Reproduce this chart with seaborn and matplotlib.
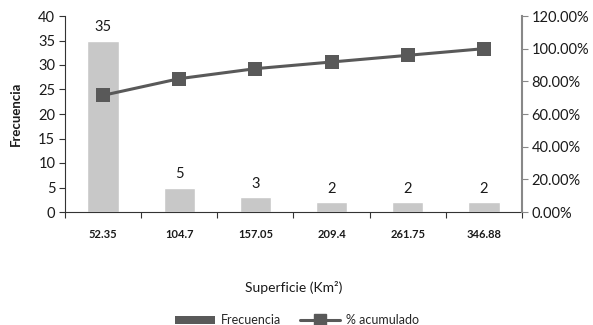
import matplotlib
matplotlib.use("Agg")
import matplotlib.pyplot as plt
import matplotlib.ticker as mticker
from matplotlib.patches import Patch
from matplotlib.lines import Line2D
import numpy as np
import pandas as pd
import seaborn as sns

# Frequency table of surface areas
categorias = ["52.35", "104.7", "157.05", "209.4", "261.75", "346.88"]
frecuencia = [35, 5, 3, 2, 2, 2]
acumulado = [0.7143, 0.8163, 0.8776, 0.9184, 0.9592, 1.0]

sns.set_theme(style="white")
plt.rcParams["font.family"] = ["Lato", "DejaVu Sans"]

BAR = "#c8c8c8"
LINE = "#595959"
TXT = "#1a1a1a"

df = pd.DataFrame({"cat": categorias, "freq": frecuencia, "acum": acumulado})

fig = plt.figure(figsize=(5.93, 3.25), dpi=100)
ax = fig.add_axes([65 / 593, 113 / 325, (522 - 65) / 593, (212 - 16) / 325])

sns.barplot(data=df, x="cat", y="freq", color=BAR, width=0.41,
            saturation=1, ax=ax)
for i, v in enumerate(frecuencia):
    ax.text(i, v + 1.3, str(v), ha="center", va="bottom", fontsize=10.5, color=TXT)

ax.set_ylim(0, 40)
ax.set_xlim(-0.5, 5.5)
ax.set_yticks(range(0, 41, 5))
ax.tick_params(axis="y", left=True, length=4, width=0.8, color="#333333",
               labelsize=10.5, labelcolor=TXT, pad=3)
ax.set_xticks(np.arange(-0.5, 6.0, 1.0), minor=False)
ax.set_xticklabels([])
ax.set_xticks(np.arange(6), minor=True)
ax.set_xticklabels(categorias, minor=True, fontsize=8, fontweight="bold",
                   color=TXT)
ax.tick_params(axis="x", which="major", bottom=True, length=4, width=0.8,
               color="#333333", direction="out")
ax.tick_params(axis="x", which="minor", bottom=False, length=0, pad=12)
ax.set_xlabel("Superficie (Km²)", fontsize=10, color=TXT, labelpad=30)
ax.set_ylabel("Frecuencia", fontsize=9.5, fontweight="bold", color=TXT, labelpad=12)
for s in ["top", "right"]:
    ax.spines[s].set_visible(False)
ax.spines["left"].set_color("#333333")
ax.spines["bottom"].set_color("#333333")
ax.spines["left"].set_linewidth(0.8)
ax.spines["bottom"].set_linewidth(0.8)

ax2 = ax.twinx()
sns.lineplot(x=np.arange(6), y=acumulado, color=LINE, linewidth=2.2,
             marker="s", markersize=10, markeredgewidth=0, ax=ax2)
ax2.set_ylim(0, 1.2)
ax2.set_yticks(np.arange(0, 1.21, 0.2))
ax2.yaxis.set_major_formatter(mticker.FuncFormatter(lambda v, p: f"{v * 100:.2f}%"))
ax2.tick_params(axis="y", right=True, length=4, width=0.8, color="#888888",
                labelsize=10.5, labelcolor=TXT, pad=3)
for s in ["top", "left", "bottom"]:
    ax2.spines[s].set_visible(False)
ax2.spines["right"].set_color("#888888")
ax2.spines["right"].set_linewidth(1.5)
ax2.set_ylabel("")

handles = [Patch(facecolor=LINE, edgecolor="none", label="Frecuencia"),
           Line2D([0], [0], color=LINE, linewidth=2.2, marker="s", markersize=8,
                  label="% acumulado")]
fig.legend(handles=handles, loc="center", bbox_to_anchor=(297 / 593, 1 - 320 / 325),
           ncol=2, frameon=False, fontsize=9, handlelength=3.2,
           handleheight=0.6, columnspacing=1.5, handletextpad=0.5)

fig.savefig("out.png", dpi=100)
